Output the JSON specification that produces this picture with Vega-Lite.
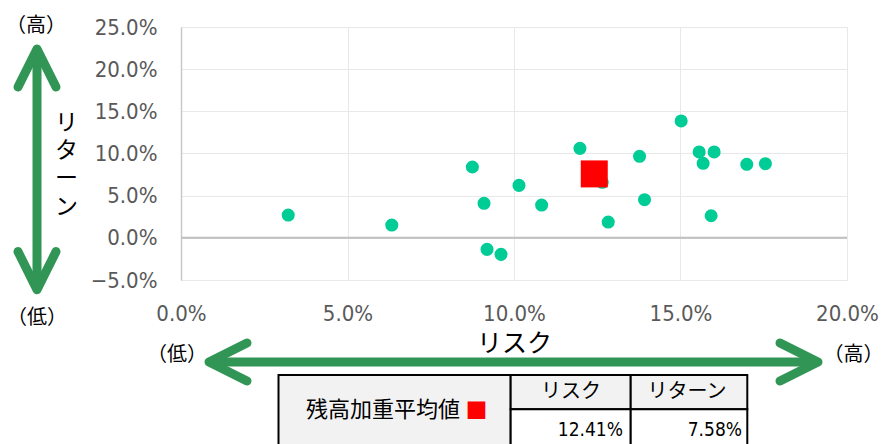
{
  "$schema": "https://vega.github.io/schema/vega-lite/v6.json",
  "width": 666,
  "height": 253,
  "autosize": {"type": "none"},
  "padding": {"left": 181, "top": 27, "right": 35, "bottom": 164},
  "background": "white",
  "config": {"view": {"stroke": null}, "font": "Noto Sans CJK JP"},
  "datasets": {
    "funds": [
      {"risk": 0.0322, "ret": 0.0270},
      {"risk": 0.0633, "ret": 0.0152},
      {"risk": 0.0875, "ret": 0.0840},
      {"risk": 0.1015, "ret": 0.0622},
      {"risk": 0.0910, "ret": 0.0409},
      {"risk": 0.0919, "ret": -0.0137},
      {"risk": 0.0961, "ret": -0.0196},
      {"risk": 0.1083, "ret": 0.0389},
      {"risk": 0.1198, "ret": 0.1061},
      {"risk": 0.1265, "ret": 0.0658},
      {"risk": 0.1283, "ret": 0.0187},
      {"risk": 0.1377, "ret": 0.0967},
      {"risk": 0.1392, "ret": 0.0452},
      {"risk": 0.1502, "ret": 0.1386},
      {"risk": 0.1556, "ret": 0.1018},
      {"risk": 0.1601, "ret": 0.1018},
      {"risk": 0.1568, "ret": 0.0884},
      {"risk": 0.1699, "ret": 0.0872},
      {"risk": 0.1755, "ret": 0.0879},
      {"risk": 0.1592, "ret": 0.0262}
    ],
    "avg": [{"name": "残高加重平均値", "risk": 0.1241, "ret": 0.0758}],
    "one": [{}]
  },
  "layer": [
    {
      "data": {"name": "one"},
      "mark": {"type": "rule", "stroke": "#BFBFBF", "strokeWidth": 2},
      "encoding": {
        "x": {
          "datum": 0, "type": "quantitative",
          "scale": {"domain": [0, 0.2], "nice": false, "zero": false},
          "axis": {
            "values": [0, 0.05, 0.1, 0.15, 0.2],
            "format": ".1%",
            "grid": true, "gridColor": "#E8E8E8", "gridWidth": 1,
            "domain": false, "ticks": false,
            "labelFont": "DejaVu Sans Condensed", "labelFontSize": 22, "labelColor": "#595959",
            "labelPadding": 33, "labelBaseline": "middle", "labelFlush": false, "labelOverlap": false,
            "title": "リスク", "titleFont": "Noto Sans CJK JP", "titleFontSize": 25,
            "titleFontWeight": "normal", "titleColor": "#000000",
            "titleY": 63, "titleBaseline": "middle"
          }
        },
        "x2": {"datum": 0.2},
        "y": {
          "datum": 0, "type": "quantitative",
          "scale": {"domain": [-0.05, 0.25], "nice": false, "zero": false},
          "axis": {
            "values": [-0.05, 0, 0.05, 0.1, 0.15, 0.2, 0.25],
            "format": ".1%",
            "grid": true, "gridColor": "#E8E8E8", "gridWidth": 1,
            "domain": true, "domainColor": "#C8C8C8", "domainWidth": 1.5,
            "ticks": false,
            "labelFont": "DejaVu Sans Condensed", "labelFontSize": 22, "labelColor": "#595959",
            "labelPadding": 24, "labelFlush": false, "labelOverlap": false,
            "title": ["リ", "タ", "ー", "ン"], "titleFont": "Noto Sans CJK JP", "titleFontSize": 23,
            "titleFontWeight": "normal", "titleColor": "#000000",
            "titleAngle": 0, "titleX": -115, "titleY": 95, "titleAlign": "center",
            "titleBaseline": "middle", "titleLineHeight": 28
          }
        }
      }
    },
    {
      "data": {"name": "funds"},
      "mark": {"type": "circle", "size": 170, "color": "#00CC96", "opacity": 1},
      "encoding": {
        "x": {"field": "risk", "type": "quantitative"},
        "y": {"field": "ret", "type": "quantitative"}
      }
    },
    {
      "data": {"name": "avg"},
      "mark": {"type": "square", "size": 729, "color": "#FF0000", "opacity": 1},
      "encoding": {
        "x": {"field": "risk", "type": "quantitative"},
        "y": {"field": "ret", "type": "quantitative"}
      }
    },
    {
      "data": {"name": "one"},
      "mark": {"type": "rule", "stroke": "#319555", "strokeWidth": 9},
      "encoding": {
        "x": {"datum": -0.043243},
        "y": {"datum": 0.22032},
        "y2": {"datum": -0.05787}
      }
    },
    {
      "data": {"name": "one"},
      "mark": {"type": "point", "shape": "M-0.5,1L0,0L0.5,1", "size": 5776, "filled": false, "color": "#319555", "strokeWidth": 9, "strokeCap": "round", "strokeJoin": "round", "opacity": 1},
      "encoding": {
        "x": {"datum": -0.043243},
        "y": {"datum": 0.22388}
      }
    },
    {
      "data": {"name": "one"},
      "mark": {"type": "point", "shape": "M-0.5,-1L0,0L0.5,-1", "size": 5776, "filled": false, "color": "#319555", "strokeWidth": 9, "strokeCap": "round", "strokeJoin": "round", "opacity": 1},
      "encoding": {
        "x": {"datum": -0.043243},
        "y": {"datum": -0.06142}
      }
    },
    {
      "data": {"name": "one"},
      "mark": {"type": "rule", "stroke": "#319555", "strokeWidth": 9},
      "encoding": {
        "x": {"datum": 0.00961},
        "x2": {"datum": 0.19009},
        "y": {"datum": -0.14728}
      }
    },
    {
      "data": {"name": "one"},
      "mark": {"type": "point", "shape": "M1,-0.5L0,0L1,0.5", "size": 5776, "filled": false, "color": "#319555", "strokeWidth": 9, "strokeCap": "round", "strokeJoin": "round", "opacity": 1},
      "encoding": {
        "x": {"datum": 0.008408},
        "y": {"datum": -0.14728}
      }
    },
    {
      "data": {"name": "one"},
      "mark": {"type": "point", "shape": "M-1,-0.5L0,0L-1,0.5", "size": 5776, "filled": false, "color": "#319555", "strokeWidth": 9, "strokeCap": "round", "strokeJoin": "round", "opacity": 1},
      "encoding": {
        "x": {"datum": 0.19129},
        "y": {"datum": -0.14728}
      }
    },
    {
      "data": {"name": "one"},
      "mark": {"type": "text", "text": "（高）", "font": "Noto Sans CJK JP", "fontSize": 20, "color": "#000000", "align": "center", "baseline": "middle"},
      "encoding": {
        "x": {"datum": -0.04354},
        "y": {"datum": 0.25113}
      }
    },
    {
      "data": {"name": "one"},
      "mark": {"type": "text", "text": "（低）", "font": "Noto Sans CJK JP", "fontSize": 20, "color": "#000000", "align": "center", "baseline": "middle"},
      "encoding": {
        "x": {"datum": -0.04324},
        "y": {"datum": -0.0951}
      }
    },
    {
      "data": {"name": "one"},
      "mark": {"type": "text", "text": "（低）", "font": "Noto Sans CJK JP", "fontSize": 20, "color": "#000000", "align": "center", "baseline": "middle"},
      "encoding": {
        "x": {"datum": -0.0012},
        "y": {"datum": -0.13898}
      }
    },
    {
      "data": {"name": "one"},
      "mark": {"type": "text", "text": "（高）", "font": "Noto Sans CJK JP", "fontSize": 20, "color": "#000000", "align": "center", "baseline": "middle"},
      "encoding": {
        "x": {"datum": 0.20195},
        "y": {"datum": -0.13898}
      }
    },
    {
      "data": {"name": "one"},
      "mark": {"type": "rect", "fill": "#F2F2F2", "stroke": "#000000", "strokeWidth": 2},
      "encoding": {
        "x": {"datum": 0.02928}, "x2": {"datum": 0.099},
        "y": {"datum": -0.16269}, "y2": {"datum": -0.25163}
      }
    },
    {
      "data": {"name": "one"},
      "mark": {"type": "rect", "fill": "#F2F2F2", "stroke": "#000000", "strokeWidth": 2},
      "encoding": {
        "x": {"datum": 0.099}, "x2": {"datum": 0.13505},
        "y": {"datum": -0.16269}, "y2": {"datum": -0.20337}
      }
    },
    {
      "data": {"name": "one"},
      "mark": {"type": "rect", "fill": "#F2F2F2", "stroke": "#000000", "strokeWidth": 2},
      "encoding": {
        "x": {"datum": 0.13505}, "x2": {"datum": 0.17006},
        "y": {"datum": -0.16269}, "y2": {"datum": -0.20337}
      }
    },
    {
      "data": {"name": "one"},
      "mark": {"type": "rect", "fill": "#FFFFFF", "stroke": "#000000", "strokeWidth": 2},
      "encoding": {
        "x": {"datum": 0.099}, "x2": {"datum": 0.13505},
        "y": {"datum": -0.20337}, "y2": {"datum": -0.25163}
      }
    },
    {
      "data": {"name": "one"},
      "mark": {"type": "rect", "fill": "#FFFFFF", "stroke": "#000000", "strokeWidth": 2},
      "encoding": {
        "x": {"datum": 0.13505}, "x2": {"datum": 0.17006},
        "y": {"datum": -0.20337}, "y2": {"datum": -0.25163}
      }
    },
    {
      "data": {"name": "avg"},
      "mark": {"type": "text", "font": "Noto Sans CJK JP", "fontSize": 22, "color": "#000000", "align": "center", "baseline": "middle"},
      "encoding": {
        "text": {"field": "name"},
        "x": {"datum": 0.06066},
        "y": {"datum": -0.20431}
      }
    },
    {
      "data": {"name": "one"},
      "mark": {"type": "text", "text": "■", "font": "Noto Sans CJK JP", "fontSize": 22, "color": "#FF0000", "align": "center", "baseline": "middle"},
      "encoding": {
        "x": {"datum": 0.08874},
        "y": {"datum": -0.2049}
      }
    },
    {
      "data": {"name": "one"},
      "mark": {"type": "text", "text": "リスク", "font": "Noto Sans CJK JP", "fontSize": 20, "color": "#000000", "align": "center", "baseline": "middle"},
      "encoding": {
        "x": {"datum": 0.11712},
        "y": {"datum": -0.18283}
      }
    },
    {
      "data": {"name": "one"},
      "mark": {"type": "text", "text": "リターン", "font": "Noto Sans CJK JP", "fontSize": 20, "color": "#000000", "align": "center", "baseline": "middle"},
      "encoding": {
        "x": {"datum": 0.15195},
        "y": {"datum": -0.18283}
      }
    },
    {
      "data": {"name": "avg"},
      "mark": {"type": "text", "font": "DejaVu Sans Condensed", "fontSize": 19, "color": "#000000", "align": "right", "baseline": "middle"},
      "encoding": {
        "text": {"field": "risk", "type": "quantitative", "format": ".2%"},
        "x": {"datum": 0.13273},
        "y": {"datum": -0.2279}
      }
    },
    {
      "data": {"name": "avg"},
      "mark": {"type": "text", "font": "DejaVu Sans Condensed", "fontSize": 19, "color": "#000000", "align": "right", "baseline": "middle"},
      "encoding": {
        "text": {"field": "ret", "type": "quantitative", "format": ".2%"},
        "x": {"datum": 0.16847},
        "y": {"datum": -0.2279}
      }
    }
  ]
}
